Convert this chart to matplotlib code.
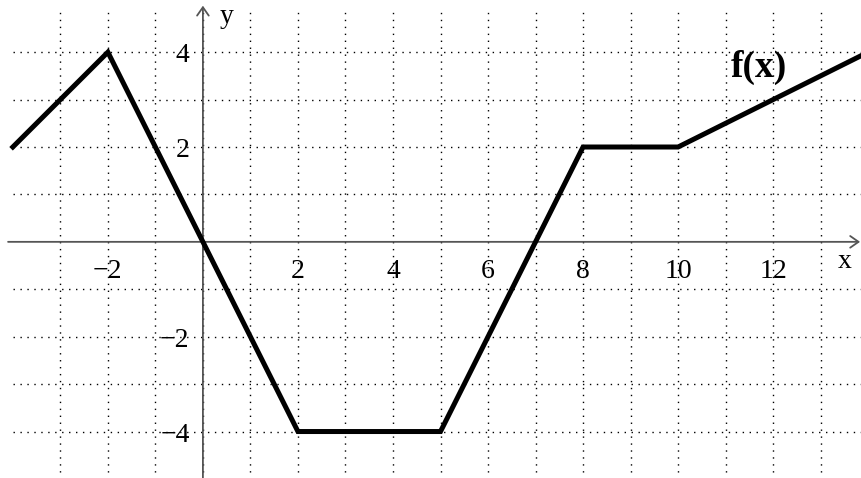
import matplotlib.pyplot as plt

# piecewise linear f(x), vertices
xs = [-4, -2, 2, 5, 8, 10, 14]
ys = [2, 4, -4, -4, 2, 2, 4]

xtick_vals = [-2, 2, 4, 6, 8, 10, 12]
ytick_vals = [-4, -2, 2, 4]
grid_x = list(range(-3, 14))
grid_y = [-4, -3, -2, -1, 1, 2, 3, 4]

plt.rcParams['font.family'] = ['Liberation Serif', 'DejaVu Serif']

fig = plt.figure(figsize=(8.62, 4.78), dpi=100)
ax = fig.add_axes([0, 0, 1, 1])
ax.set_xlim(-4.27, 13.87)
ax.set_ylim(-4.98, 5.1)
ax.axis('off')

dot = (0, (1, 4))
ax.vlines(grid_x, -5, 4.95, colors='black', linestyles=dot, lw=1)
ax.hlines(grid_y, -4, 14, colors='black', linestyles=dot, lw=1)

# axes with open arrows
arrow = dict(arrowstyle='->,head_length=0.5,head_width=0.35', color='#555555',
             lw=1.3, mutation_scale=12, shrinkA=0, shrinkB=0)
ax.annotate('', xy=(13.83, 0), xytext=(-4.1, 0), arrowprops=arrow,
            annotation_clip=False)
ax.annotate('', xy=(0, 4.98), xytext=(0, -5.1), arrowprops=arrow,
            annotation_clip=False)

ax.plot(xs, ys, color='black', lw=3.6, solid_joinstyle='miter', zorder=5)

def lab(v):
    return str(v).replace('-', '\u2212')

for v in xtick_vals:
    ax.text(v, -0.63, lab(v), ha='center', va='center', fontsize=20)
for v in ytick_vals:
    ax.text(-0.28, v - 0.08, lab(v), ha='right', va='center', fontsize=20)

ax.text(13.5, -0.42, 'x', ha='center', va='center', fontsize=20)
ax.text(0.5, 4.75, 'y', ha='center', va='center', fontsize=20)
ax.text(11.7, 3.67, 'f(x)', ha='center', va='center', fontsize=27, fontweight='bold')

fig.savefig('out.png', dpi=100)
